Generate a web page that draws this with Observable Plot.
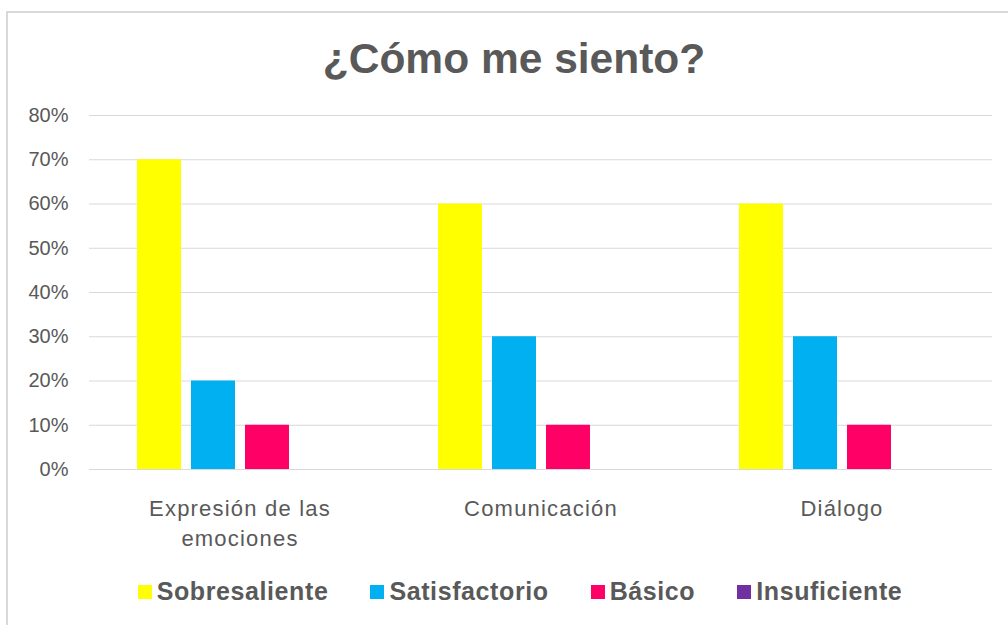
<!DOCTYPE html>
<html><head><meta charset="utf-8">
<script src="https://cdn.jsdelivr.net/npm/d3@7"></script>
<script src="https://cdn.jsdelivr.net/npm/@observablehq/plot@0.6"></script>
<style>
html,body{margin:0;padding:0;background:#fff;}
body{width:1008px;height:625px;position:relative;overflow:hidden;font-family:"Liberation Sans",Arial,sans-serif;}
#frame{position:absolute;left:6px;top:11px;width:1010px;height:640px;border-top:2px solid #d9d9d9;border-left:2px solid #d9d9d9;}
#title{position:absolute;left:0;top:35px;width:1028px;text-align:center;font-size:42.5px;font-weight:bold;color:#595959;}
#chart{position:absolute;left:0;top:100px;}
#chart svg{overflow:visible;}
#chart g[aria-label="fx-axis tick label"] text{letter-spacing:1.2px;font-size:22px;}
#legend{position:absolute;left:0;top:577px;width:1040px;display:flex;justify-content:center;gap:42px;font-size:25px;letter-spacing:0.6px;font-weight:bold;color:#595959;}
#legend .it{display:flex;align-items:center;gap:5px;}
#legend .sw{width:14px;height:14px;display:inline-block;}
</style></head>
<body>
<div id="frame"></div>
<div id="title">¿Cómo me siento?</div>
<div id="chart"></div>
<div id="legend"></div>
<script>
const categories = ["Expresión de las emociones", "Comunicación", "Diálogo"];
const categoryLabels = ["Expresión de las\nemociones", "Comunicación", "Diálogo"];
const series = ["Sobresaliente", "Satisfactorio", "Básico", "Insuficiente"];
const colors = ["#FFFF00", "#00B0F0", "#FF0066", "#7030A0"];
const sobresaliente = [70, 60, 60];
const satisfactorio = [20, 30, 30];
const basico = [10, 10, 10];
const insuficiente = [0, 0, 0];
const yTicks = [0, 10, 20, 30, 40, 50, 60, 70, 80];

const seriesValues = [sobresaliente, satisfactorio, basico, insuficiente];
const data = [];
categories.forEach((c, i) => series.forEach((s, j) => data.push({cat: c, serie: s, value: seriesValues[j][i]})));

const chart = Plot.plot({
  width: 1008,
  height: 470,
  marginLeft: 89,
  marginRight: 16,
  marginTop: 15,
  marginBottom: 101,
  style: {fontFamily: "Liberation Sans, Arial, sans-serif", color: "#595959", background: "transparent"},
  fx: {domain: categories, padding: 0},
  x: {domain: series, paddingInner: 0.19, paddingOuter: 0.88, axis: null},
  y: {domain: [0, 80]},
  color: {domain: series, range: colors},
  marks: [
    Plot.gridY(yTicks, {stroke: "#d9d9d9", strokeOpacity: 1, strokeWidth: 1}),
    Plot.axisY(yTicks, {tickSize: 0, tickPadding: 21, tickFormat: d => d + "%", fontSize: 20, label: null, fill: "#595959"}),
    Plot.axisFx({anchor: "bottom", tickSize: 0, tickPadding: 25, fontSize: 22, lineHeight: 1.36, label: null, fill: "#595959",
      tickFormat: d => categoryLabels[categories.indexOf(d)]}),
    Plot.barY(data, {fx: "cat", x: "serie", y: "value", fill: "serie"})
  ]
});
document.getElementById("chart").appendChild(chart);

const leg = document.getElementById("legend");
series.forEach((s, j) => {
  const it = document.createElement("div");
  it.className = "it";
  it.innerHTML = `<span class="sw" style="background:${colors[j]}"></span><span>${s}</span>`;
  leg.appendChild(it);
});
</script>
</body></html>
